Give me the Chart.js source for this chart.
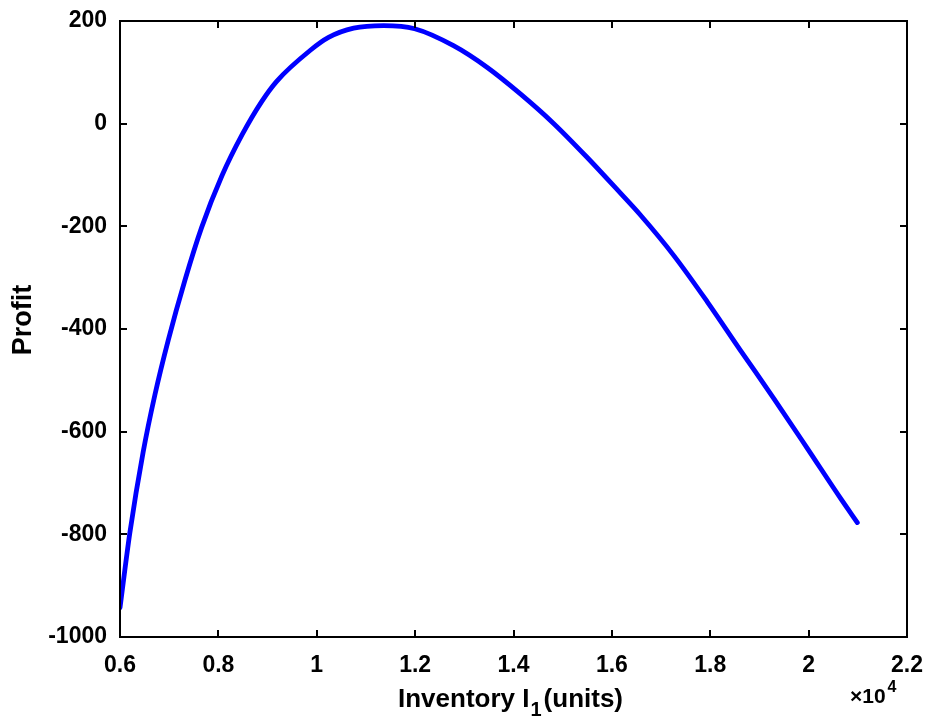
<!DOCTYPE html>
<html>
<head>
<meta charset="utf-8">
<script src="https://cdn.jsdelivr.net/npm/chart.js@4.4.1/dist/chart.umd.min.js"></script>
<style>
  html, body { margin: 0; padding: 0; background: #ffffff; }
  #wrap { width: 927px; height: 719px; position: relative; }
</style>
</head>
<body>
<div id="wrap"><canvas id="c" width="927" height="719"></canvas></div>
<script>
// Inventory I1 (units) and profit values
const inventory = [6000, 6200, 6470, 6710, 6980, 7320, 7660, 8070, 8480, 8880, 9190, 9870, 10240, 10750, 11360, 11990, 12780, 13460, 14140, 14820, 15490, 16170, 16580, 17260, 17940, 18610, 19290, 19970, 20650, 20990];
const profit    = [-943, -797, -640, -528, -422, -305, -202, -102, -22, 43, 83, 143, 168, 186, 191, 185, 152, 110, 58, 0, -65, -135, -178, -257, -347, -441, -535, -632, -730, -777];

const xTicks = [6000, 8000, 10000, 12000, 14000, 16000, 18000, 20000, 22000];
const yTicks = [-1000, -800, -600, -400, -200, 0, 200];

const xTitleMain = 'Inventory I';
const xTitleSub = '1';
const xTitleTail = '(units)';
const yTitle = 'Profit';
const xExponentBase = '\u00d710';
const xExponent = '4';

const points = inventory.map((x, i) => ({ x: x, y: profit[i] }));
const FONT = '"Liberation Sans", Arial, Helvetica, sans-serif';

const boxPlugin = {
  id: 'boxAndTitles',
  afterDraw(chart) {
    const ctx = chart.ctx;
    const a = chart.chartArea;
    const xs = chart.scales.x, ys = chart.scales.y;
    ctx.save();
    ctx.strokeStyle = '#000';
    ctx.lineWidth = 2;
    ctx.strokeRect(a.left, a.top, a.right - a.left, a.bottom - a.top);
    const tl = 7;
    ctx.beginPath();
    xTicks.forEach(v => {
      const px = Math.round(xs.getPixelForValue(v));
      ctx.moveTo(px, a.bottom); ctx.lineTo(px, a.bottom - tl);
      ctx.moveTo(px, a.top); ctx.lineTo(px, a.top + tl);
    });
    yTicks.forEach(v => {
      const py = Math.round(ys.getPixelForValue(v));
      ctx.moveTo(a.left, py); ctx.lineTo(a.left + tl, py);
      ctx.moveTo(a.right, py); ctx.lineTo(a.right - tl, py);
    });
    ctx.stroke();

    // x title with subscript
    ctx.fillStyle = '#000';
    ctx.textBaseline = 'alphabetic';
    const f1 = 'bold 26px ' + FONT;
    const f2 = 'bold 20px ' + FONT;
    ctx.font = f1;
    const w1 = ctx.measureText(xTitleMain).width;
    ctx.font = f2;
    const w2 = ctx.measureText(xTitleSub).width;
    const sx = 398;
    const by = 707;
    ctx.textAlign = 'left';
    ctx.font = f1;
    ctx.fillText(xTitleMain, sx, by);
    ctx.font = f2;
    ctx.fillText(xTitleSub, sx + w1 + 1, by + 9);
    ctx.font = f1;
    ctx.fillText(xTitleTail, sx + w1 + w2 + 3, by);

    // exponent label
    ctx.font = 'bold 21px ' + FONT;
    ctx.textAlign = 'left';
    ctx.fillText(xExponentBase, 850, 703);
    const wb = ctx.measureText(xExponentBase).width;
    ctx.font = 'bold 16px ' + FONT;
    ctx.fillText(xExponent, 850 + wb + 2, 692);

    // y title
    ctx.font = 'bold 27px ' + FONT;
    ctx.translate(31, 320);
    ctx.rotate(-Math.PI / 2);
    ctx.textAlign = 'center';
    ctx.fillText(yTitle, 0, 0);
    ctx.restore();
  }
};

new Chart(document.getElementById('c'), {
  type: 'line',
  data: {
    datasets: [
      {
        data: points,
        borderColor: '#0000ff',
        borderWidth: 4.8,
        borderCapStyle: 'round',
        borderJoinStyle: 'round',
        pointRadius: 0,
        fill: false,
        cubicInterpolationMode: 'monotone'
      },
      {
        data: points,
        borderColor: 'rgba(0,0,30,0.7)',
        borderWidth: 1.5,
        borderDash: [6, 6],
        pointRadius: 0,
        fill: false,
        cubicInterpolationMode: 'monotone'
      }
    ]
  },
  options: {
    responsive: false,
    animation: false,
    devicePixelRatio: 1,
    layout: { padding: { top: 21, right: 20, left: 0, bottom: 0 } },
    plugins: { legend: { display: false }, tooltip: { enabled: false } },
    scales: {
      x: {
        type: 'linear',
        min: 6000, max: 22000,
        afterFit(s) { s.height = 82; s.paddingLeft = 0; s.paddingRight = 0; },
        afterBuildTicks(s) { s.ticks = xTicks.map(v => ({ value: v })); },
        grid: { display: false, drawTicks: false },
        border: { display: false },
        ticks: {
          padding: 15,
          color: '#000',
          font: { family: FONT, size: 23, weight: 'bold' },
          maxRotation: 0,
          callback: v => String(v / 10000)
        }
      },
      y: {
        type: 'linear',
        min: -1000, max: 200,
        afterFit(s) { s.width = 120; s.paddingTop = 0; s.paddingBottom = 0; },
        afterBuildTicks(s) { s.ticks = yTicks.map(v => ({ value: v })); },
        grid: { display: false, drawTicks: false },
        border: { display: false },
        ticks: {
          padding: 13,
          color: '#000',
          font: { family: FONT, size: 23, weight: 'bold' },
          callback: v => String(v)
        }
      }
    }
  },
  plugins: [boxPlugin]
});
</script>
</body>
</html>
